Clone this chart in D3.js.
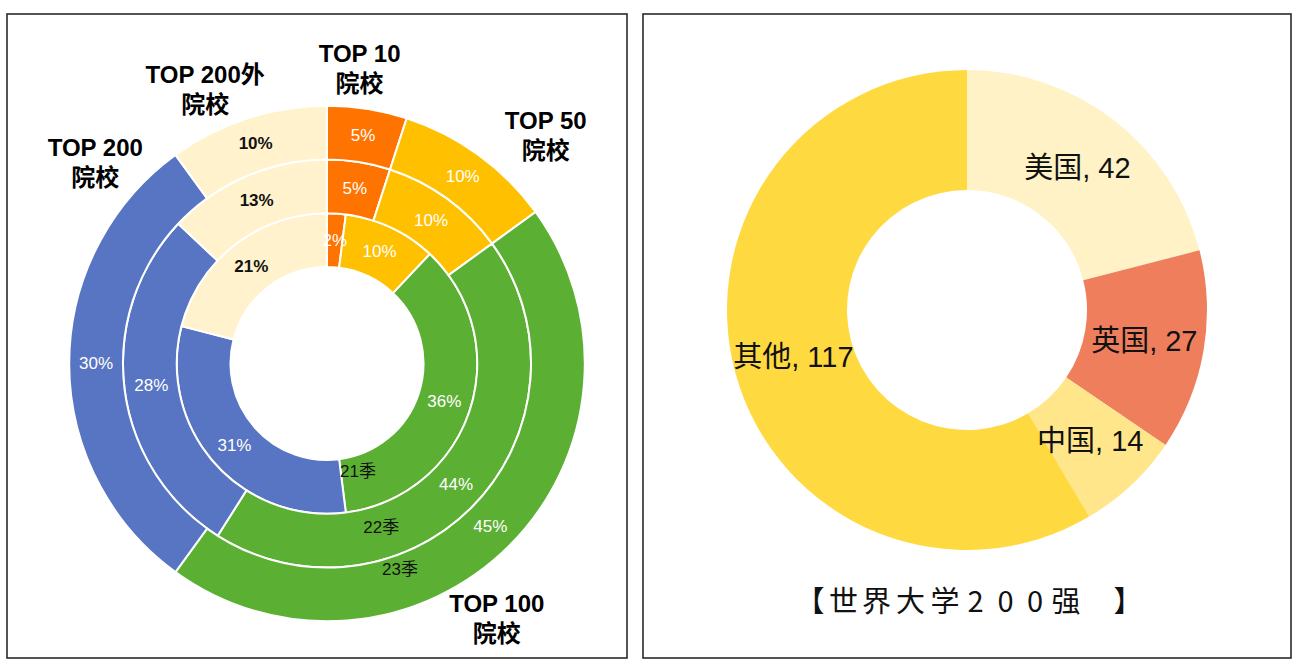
<!DOCTYPE html>
<html>
<head>
<meta charset="utf-8">
<script src="https://cdn.jsdelivr.net/npm/d3@7/dist/d3.min.js"></script>
<style>
  html, body { margin: 0; padding: 0; background: #ffffff; }
  svg { display: block; }
</style>
</head>
<body>
<svg id="chart" width="1301" height="671"></svg>
<script>
// ---------- DATA ----------
const categories = ["TOP 10", "TOP 50", "TOP 100", "TOP 200", "TOP 200外"];
const categorySub = ["院校", "院校", "院校", "院校", "院校"];
const seasons = ["21季", "22季", "23季"];
const season21 = [2, 10, 36, 31, 21];
const season22 = [5, 10, 44, 28, 13];
const season23 = [5, 10, 45, 30, 10];
const countries = ["美国", "英国", "中国", "其他"];
const countryCounts = [42, 27, 14, 117];
const rightTitle = "【世界大学200强】";

// ---------- STYLE ----------
const catColors = ["#ff7400", "#ffc000", "#5bb033", "#5875c3", "#fff2cc"];
const catTextColors = ["#ffffff", "#ffffff", "#ffffff", "#ffffff", "#111111"];
const countryColors = ["#fff2c6", "#ef7f5c", "#ffe68a", "#ffd940"];
const latinCJK = "'Liberation Sans', Arial, 'Noto Sans CJK SC', sans-serif";

const svg = d3.select("#chart");

// panel frames
const panels = [
  {x0: 7, y0: 14, x1: 627, y1: 658},
  {x0: 643, y0: 14, x1: 1291, y1: 658}
];
svg.selectAll("rect.frame").data(panels).join("rect")
  .attr("class", "frame")
  .attr("x", d => d.x0).attr("y", d => d.y0)
  .attr("width", d => d.x1 - d.x0).attr("height", d => d.y1 - d.y0)
  .attr("fill", "none").attr("stroke", "#2a2a2a").attr("stroke-width", 1.6);

// ---------- LEFT: nested donut ----------
const left = svg.append("g").attr("transform", "translate(327,363.5)");
const ringData = [season21, season22, season23];
const ringRadius = d3.scaleLinear().domain([0, 3]).range([96.5, 257.8]);
const pie = d3.pie().sort(null).value(d => d).startAngle(0).endAngle(2 * Math.PI);
const deg = Math.PI / 180;

ringData.forEach((vals, ri) => {
  const arc = d3.arc().innerRadius(ringRadius(ri)).outerRadius(ringRadius(ri + 1));
  const arcs = pie(vals).map((a, i) => Object.assign(a, {cat: i}));
  const g = left.append("g");
  g.selectAll("path").data(arcs).join("path")
    .attr("d", arc)
    .attr("fill", d => catColors[d.cat])
    .attr("stroke", "#ffffff").attr("stroke-width", 2);
  g.selectAll("text").data(arcs).join("text")
    .attr("transform", d => `translate(${arc.centroid(d)})`)
    .attr("text-anchor", "middle").attr("dominant-baseline", "central")
    .attr("font-family", latinCJK).attr("font-size", 17)
    .attr("font-weight", d => d.cat === 4 ? "bold" : "normal")
    .attr("fill", d => catTextColors[d.cat])
    .text(d => d.data + "%");
  // season label
  const ang = [164, 161.7, 160.5][ri] * deg;
  const rr = ringRadius(ri) + [16, 22.5, 14.5][ri];
  left.append("text")
    .attr("x", rr * Math.sin(ang)).attr("y", -rr * Math.cos(ang))
    .attr("text-anchor", "middle").attr("dominant-baseline", "central")
    .attr("font-family", latinCJK).attr("font-size", 17).attr("fill", "#111")
    .text(seasons[ri]);
});

// outer category labels (polar placement around outer ring)
const catLabelPos = [[6.3, 297], [43.8, 316], [146.3, 306], [311, 307], [336, 299.5]];
categories.forEach((c, i) => {
  const a = catLabelPos[i][0] * deg, r = catLabelPos[i][1];
  const t = left.append("text")
    .attr("text-anchor", "middle")
    .attr("font-family", latinCJK).attr("font-size", 24).attr("font-weight", "bold")
    .attr("fill", "#000");
  const cx = r * Math.sin(a), cy = -r * Math.cos(a);
  t.append("tspan").attr("x", cx).attr("y", cy - 15).attr("dominant-baseline", "central").text(c);
  t.append("tspan").attr("x", cx).attr("y", cy + 15).attr("dominant-baseline", "central").text(categorySub[i]);
});

// ---------- RIGHT: donut ----------
const right = svg.append("g").attr("transform", "translate(967,310)");
const arcR = d3.arc().innerRadius(120).outerRadius(240);
const arcsR = pie(countryCounts).map((a, i) => Object.assign(a, {idx: i}));
right.selectAll("path").data(arcsR).join("path")
  .attr("d", arcR)
  .attr("fill", d => countryColors[d.idx]);
right.selectAll("text").data(arcsR).join("text")
  .attr("transform", d => `translate(${arcR.centroid(d)})`)
  .attr("text-anchor", "middle").attr("dominant-baseline", "central")
  .attr("font-family", latinCJK).attr("font-size", 29).attr("fill", "#111")
  .text(d => `${countries[d.idx]}, ${d.data}`);

// title with per-glyph spacing
const titleCenters = [810, 843.5, 876.5, 910.5, 945, 975.5, 1005.5, 1035, 1066, 1128];
const titleText = svg.append("text")
  .attr("y", 598.5).attr("dominant-baseline", "central")
  .attr("text-anchor", "middle")
  .attr("font-family", "'Noto Sans CJK SC', sans-serif").attr("font-size", 29)
  .attr("fill", "#111");
Array.from(rightTitle).forEach((ch, i) => {
  titleText.append("tspan").attr("x", titleCenters[i]).attr("y", 598.5).text(ch);
});
</script>
</body>
</html>
